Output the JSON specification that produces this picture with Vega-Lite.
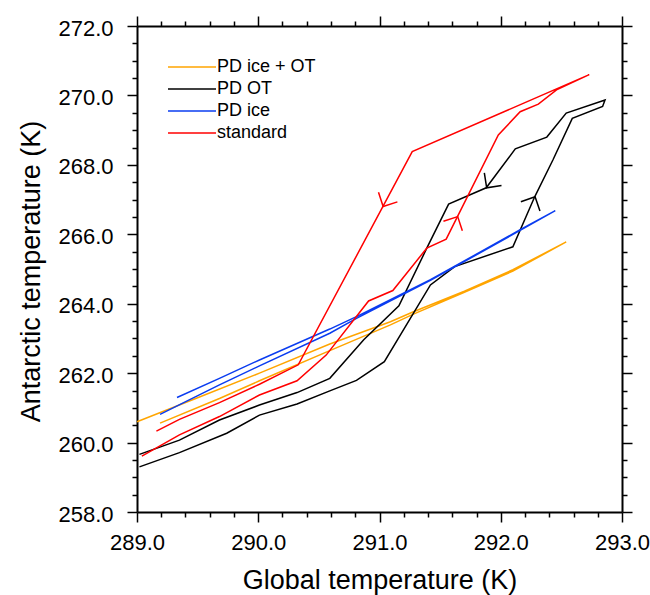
{
  "$schema": "https://vega.github.io/schema/vega-lite/v6.json",
  "width": 485,
  "height": 486,
  "autosize": {"type": "none"},
  "padding": {"left": 137, "top": 26, "right": 28, "bottom": 83},
  "background": "white",
  "config": {"view": {"stroke": null}, "font": "Liberation Sans"},
  "datasets": {
    "curves": [
      {"series": "PD ice + OT", "i": 1, "global": 289.19, "antarctic": 260.56},
      {"series": "PD ice + OT", "i": 2, "global": 289.68, "antarctic": 261.27},
      {"series": "PD ice + OT", "i": 3, "global": 290.01, "antarctic": 261.78},
      {"series": "PD ice + OT", "i": 4, "global": 290.59, "antarctic": 262.65},
      {"series": "PD ice + OT", "i": 5, "global": 291.09, "antarctic": 263.39},
      {"series": "PD ice + OT", "i": 6, "global": 291.28, "antarctic": 263.70},
      {"series": "PD ice + OT", "i": 7, "global": 291.70, "antarctic": 264.33},
      {"series": "PD ice + OT", "i": 8, "global": 292.10, "antarctic": 264.94},
      {"series": "PD ice + OT", "i": 9, "global": 292.54, "antarctic": 265.78},
      {"series": "PD ice + OT", "i": 10, "global": 292.10, "antarctic": 264.98},
      {"series": "PD ice + OT", "i": 11, "global": 291.70, "antarctic": 264.36},
      {"series": "PD ice + OT", "i": 12, "global": 291.28, "antarctic": 263.77},
      {"series": "PD ice + OT", "i": 13, "global": 291.09, "antarctic": 263.48},
      {"series": "PD ice + OT", "i": 14, "global": 290.59, "antarctic": 262.84},
      {"series": "PD ice + OT", "i": 15, "global": 290.01, "antarctic": 262.00},
      {"series": "PD ice + OT", "i": 16, "global": 289.50, "antarctic": 261.29},
      {"series": "PD ice + OT", "i": 17, "global": 289.00, "antarctic": 260.60},

      {"series": "PD OT", "i": 1, "global": 289.02, "antarctic": 259.30},
      {"series": "PD OT", "i": 2, "global": 289.35, "antarctic": 259.71},
      {"series": "PD OT", "i": 3, "global": 289.74, "antarctic": 260.27},
      {"series": "PD OT", "i": 4, "global": 290.01, "antarctic": 260.79},
      {"series": "PD OT", "i": 5, "global": 290.32, "antarctic": 261.11},
      {"series": "PD OT", "i": 6, "global": 290.59, "antarctic": 261.49},
      {"series": "PD OT", "i": 7, "global": 290.81, "antarctic": 261.79},
      {"series": "PD OT", "i": 8, "global": 291.04, "antarctic": 262.33},
      {"series": "PD OT", "i": 9, "global": 291.42, "antarctic": 264.54},
      {"series": "PD OT", "i": 10, "global": 291.62, "antarctic": 265.07},
      {"series": "PD OT", "i": 11, "global": 292.10, "antarctic": 265.64},
      {"series": "PD OT", "i": 12, "global": 292.28, "antarctic": 267.08},
      {"series": "PD OT", "i": 13, "global": 292.43, "antarctic": 268.14},
      {"series": "PD OT", "i": 14, "global": 292.59, "antarctic": 269.34},
      {"series": "PD OT", "i": 15, "global": 292.84, "antarctic": 269.68},
      {"series": "PD OT", "i": 16, "global": 292.86, "antarctic": 269.87},
      {"series": "PD OT", "i": 17, "global": 292.54, "antarctic": 269.49},
      {"series": "PD OT", "i": 18, "global": 292.38, "antarctic": 268.80},
      {"series": "PD OT", "i": 19, "global": 292.12, "antarctic": 268.46},
      {"series": "PD OT", "i": 20, "global": 291.88, "antarctic": 267.34},
      {"series": "PD OT", "i": 21, "global": 291.57, "antarctic": 266.87},
      {"series": "PD OT", "i": 22, "global": 291.39, "antarctic": 265.60},
      {"series": "PD OT", "i": 23, "global": 291.16, "antarctic": 263.94},
      {"series": "PD OT", "i": 24, "global": 290.87, "antarctic": 262.96},
      {"series": "PD OT", "i": 25, "global": 290.59, "antarctic": 261.85},
      {"series": "PD OT", "i": 26, "global": 290.32, "antarctic": 261.44},
      {"series": "PD OT", "i": 27, "global": 290.01, "antarctic": 261.08},
      {"series": "PD OT", "i": 28, "global": 289.68, "antarctic": 260.65},
      {"series": "PD OT", "i": 29, "global": 289.35, "antarctic": 260.07},
      {"series": "PD OT", "i": 30, "global": 289.02, "antarctic": 259.66},

      {"series": "PD ice", "i": 1, "global": 289.19, "antarctic": 260.81},
      {"series": "PD ice", "i": 2, "global": 289.68, "antarctic": 261.66},
      {"series": "PD ice", "i": 3, "global": 290.01, "antarctic": 262.21},
      {"series": "PD ice", "i": 4, "global": 290.59, "antarctic": 263.15},
      {"series": "PD ice", "i": 5, "global": 290.81, "antarctic": 263.58},
      {"series": "PD ice", "i": 6, "global": 291.42, "antarctic": 264.67},
      {"series": "PD ice", "i": 7, "global": 292.16, "antarctic": 266.11},
      {"series": "PD ice", "i": 8, "global": 292.45, "antarctic": 266.68},
      {"series": "PD ice", "i": 9, "global": 292.16, "antarctic": 266.13},
      {"series": "PD ice", "i": 10, "global": 291.42, "antarctic": 264.69},
      {"series": "PD ice", "i": 11, "global": 290.81, "antarctic": 263.63},
      {"series": "PD ice", "i": 12, "global": 290.59, "antarctic": 263.27},
      {"series": "PD ice", "i": 13, "global": 290.01, "antarctic": 262.38},
      {"series": "PD ice", "i": 14, "global": 289.68, "antarctic": 261.85},
      {"series": "PD ice", "i": 15, "global": 289.33, "antarctic": 261.30},

      {"series": "standard", "i": 1, "global": 289.04, "antarctic": 259.61},
      {"series": "standard", "i": 2, "global": 289.35, "antarctic": 260.22},
      {"series": "standard", "i": 3, "global": 289.68, "antarctic": 260.75},
      {"series": "standard", "i": 4, "global": 290.01, "antarctic": 261.37},
      {"series": "standard", "i": 5, "global": 290.32, "antarctic": 261.78},
      {"series": "standard", "i": 6, "global": 290.56, "antarctic": 262.52},
      {"series": "standard", "i": 7, "global": 290.91, "antarctic": 264.08},
      {"series": "standard", "i": 8, "global": 291.11, "antarctic": 264.38},
      {"series": "standard", "i": 9, "global": 291.39, "antarctic": 265.60},
      {"series": "standard", "i": 10, "global": 291.55, "antarctic": 265.86},
      {"series": "standard", "i": 11, "global": 291.98, "antarctic": 268.86},
      {"series": "standard", "i": 12, "global": 292.16, "antarctic": 269.53},
      {"series": "standard", "i": 13, "global": 292.31, "antarctic": 269.75},
      {"series": "standard", "i": 14, "global": 292.46, "antarctic": 270.16},
      {"series": "standard", "i": 15, "global": 292.73, "antarctic": 270.60},
      {"series": "standard", "i": 16, "global": 291.27, "antarctic": 268.38},
      {"series": "standard", "i": 17, "global": 290.33, "antarctic": 262.24},
      {"series": "standard", "i": 18, "global": 290.01, "antarctic": 261.68},
      {"series": "standard", "i": 19, "global": 289.68, "antarctic": 261.15},
      {"series": "standard", "i": 20, "global": 289.35, "antarctic": 260.67},
      {"series": "standard", "i": 21, "global": 289.16, "antarctic": 260.33}
    ],
    "arrows": [
      {"series": "standard", "arrow": "standard cooling", "global": 291.03, "antarctic": 266.80},
      {"series": "standard", "arrow": "standard warming", "global": 291.645, "antarctic": 266.51},
      {"series": "PD OT", "arrow": "PD OT cooling", "global": 291.884, "antarctic": 267.34},
      {"series": "PD OT", "arrow": "PD OT warming", "global": 292.283, "antarctic": 267.08}
    ]
  },
  "layer": [
    {
      "data": {"name": "curves"},
      "mark": {"type": "line", "strokeWidth": 1.5},
      "encoding": {
        "x": {
          "field": "global", "type": "quantitative",
          "scale": {"domain": [289, 293], "nice": false, "zero": false},
          "axis": {
            "orient": "bottom",
            "values": [289, 289.2, 289.4, 289.6, 289.8, 290, 290.2, 290.4, 290.6, 290.8, 291, 291.2, 291.4, 291.6, 291.8, 292, 292.2, 292.4, 292.6, 292.8, 293],
            "labelExpr": "abs(datum.value - round(datum.value)) < 0.001 ? format(datum.value, '.1f') : ''",
            "labelFontSize": 22, "labelColor": "black", "labelPadding": 10, "labelFlush": false, "labelOverlap": false,
            "tickSize": {"condition": {"test": "abs(datum.value - round(datum.value)) < 0.001", "value": 10}, "value": 5},
            "tickWidth": 1.5, "tickColor": "black", "domainColor": "black", "domainWidth": 2, "grid": false,
            "title": "Global temperature (K)", "titleFontSize": 27, "titleFontWeight": "normal", "titleColor": "black",
            "titleX": 242.5, "titleY": 76, "titleBaseline": "alphabetic", "titleAlign": "center"
          }
        },
        "y": {
          "field": "antarctic", "type": "quantitative",
          "scale": {"domain": [258, 272], "nice": false, "zero": false},
          "axis": {
            "orient": "left",
            "values": [258, 258.5, 259, 259.5, 260, 260.5, 261, 261.5, 262, 262.5, 263, 263.5, 264, 264.5, 265, 265.5, 266, 266.5, 267, 267.5, 268, 268.5, 269, 269.5, 270, 270.5, 271, 271.5, 272],
            "labelExpr": "abs(datum.value / 2 - round(datum.value / 2)) < 0.001 ? format(datum.value, '.1f') : ''",
            "labelFontSize": 22, "labelColor": "black", "labelPadding": 14, "labelFlush": false, "labelOverlap": false, "labelOffset": 2,
            "tickSize": {"condition": {"test": "abs(datum.value / 2 - round(datum.value / 2)) < 0.001", "value": 10}, "value": 5},
            "tickWidth": 1.5, "tickColor": "black", "domainColor": "black", "domainWidth": 2, "grid": false,
            "title": "Antarctic temperature (K)", "titleFontSize": 27, "titleFontWeight": "normal", "titleColor": "black",
            "titleX": -98, "titleY": 245, "titleAngle": -90, "titleBaseline": "alphabetic", "titleAlign": "center"
          }
        },
        "color": {
          "field": "series", "type": "nominal",
          "scale": {"domain": ["PD ice + OT", "PD OT", "PD ice", "standard"], "range": ["#ffa500", "#000000", "#0a3cf0", "#ff0000"]},
          "legend": {
            "orient": "none", "legendX": 46, "legendY": 32, "title": null, "padding": 0,
            "symbolType": "M -4 0 L 4 0", "symbolSize": 144, "symbolStrokeWidth": 1.5,
            "labelFontSize": 18, "labelColor": "black", "labelOffset": 16, "rowPadding": 4, "labelLimit": 300
          }
        },
        "order": {"field": "i", "type": "quantitative"}
      }
    },
    {
      "data": {"name": "arrows"},
      "mark": {"type": "point", "shape": "M -1 1 L 0 0 L 1 1", "filled": false, "size": 450, "strokeWidth": 1.5, "opacity": 1},
      "encoding": {
        "x": {
          "field": "global", "type": "quantitative",
          "scale": {"domain": [289, 293], "nice": false, "zero": false},
          "axis": {
            "orient": "top", "title": null, "labels": false,
            "values": [289, 289.2, 289.4, 289.6, 289.8, 290, 290.2, 290.4, 290.6, 290.8, 291, 291.2, 291.4, 291.6, 291.8, 292, 292.2, 292.4, 292.6, 292.8, 293],
            "tickSize": {"condition": {"test": "abs(datum.value - round(datum.value)) < 0.001", "value": 10}, "value": 5},
            "tickWidth": 1.5, "tickColor": "black", "domainColor": "black", "domainWidth": 2, "grid": false
          }
        },
        "y": {
          "field": "antarctic", "type": "quantitative",
          "scale": {"domain": [258, 272], "nice": false, "zero": false},
          "axis": {
            "orient": "right", "title": null, "labels": false,
            "values": [258, 258.5, 259, 259.5, 260, 260.5, 261, 261.5, 262, 262.5, 263, 263.5, 264, 264.5, 265, 265.5, 266, 266.5, 267, 267.5, 268, 268.5, 269, 269.5, 270, 270.5, 271, 271.5, 272],
            "tickSize": {"condition": {"test": "abs(datum.value / 2 - round(datum.value / 2)) < 0.001", "value": 10}, "value": 5},
            "tickWidth": 1.5, "tickColor": "black", "domainColor": "black", "domainWidth": 2, "grid": false
          }
        },
        "stroke": {
          "field": "series", "type": "nominal",
          "scale": {"domain": ["PD OT", "standard"], "range": ["#000000", "#ff0000"]},
          "legend": null
        },
        "angle": {
          "field": "arrow", "type": "nominal",
          "scale": {"type": "ordinal", "domain": ["standard cooling", "standard warming", "PD OT cooling", "PD OT warming"], "range": [207, 27, 216, 26]},
          "legend": null
        }
      }
    }
  ],
  "resolve": {"axis": {"x": "independent", "y": "independent"}}
}
